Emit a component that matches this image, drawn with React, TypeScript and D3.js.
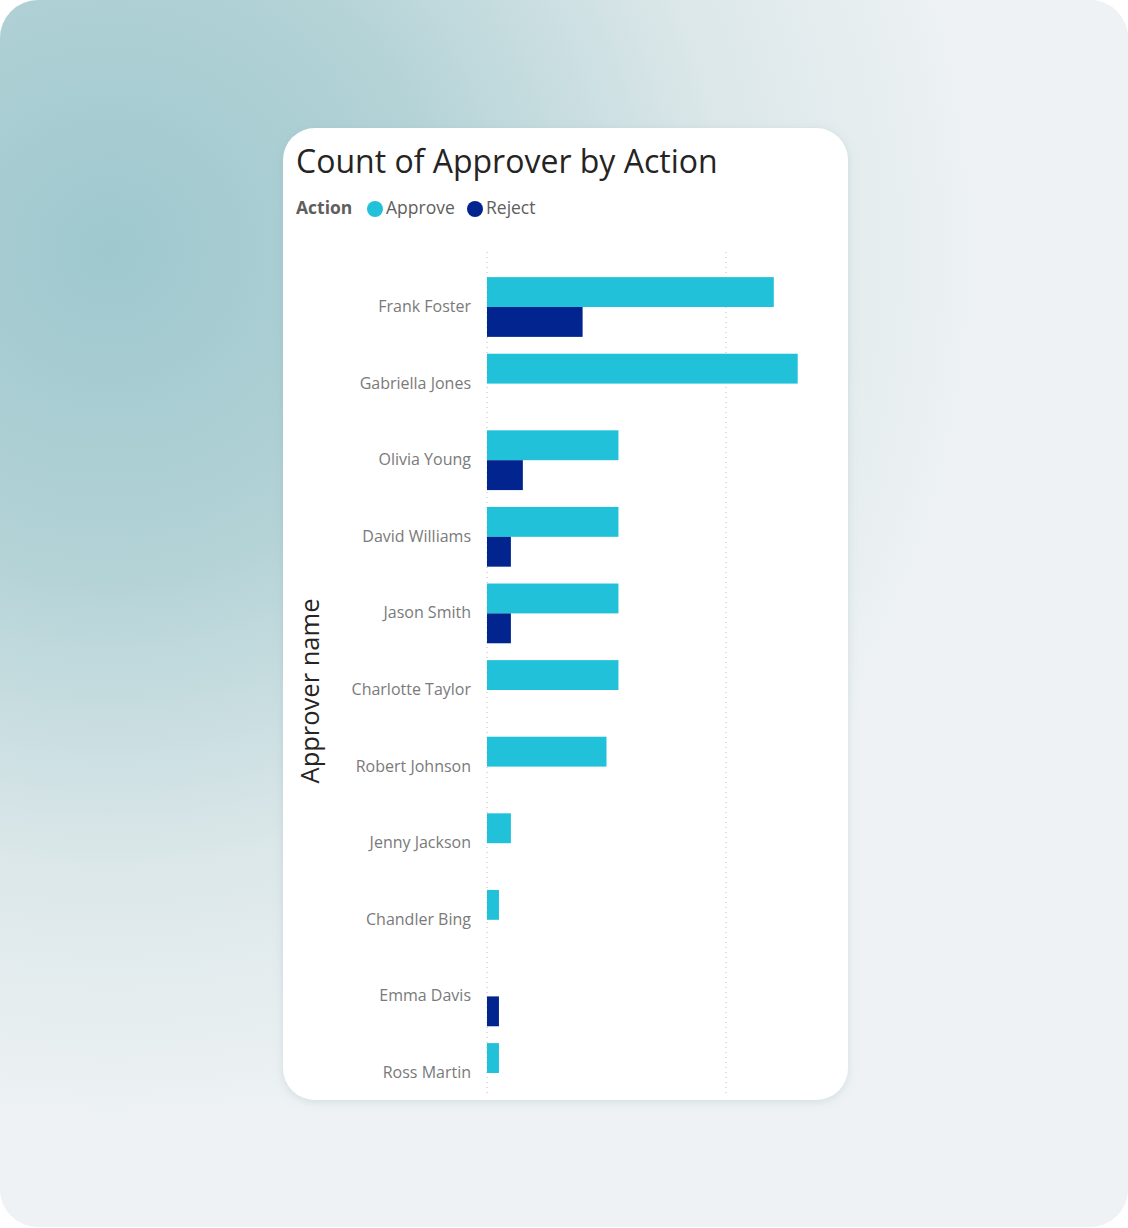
import React from "react";
import * as d3 from "d3";

// Approver names, top to bottom
const approvers = [
  "Frank Foster",
  "Gabriella Jones",
  "Olivia Young",
  "David Williams",
  "Jason Smith",
  "Charlotte Taylor",
  "Robert Johnson",
  "Jenny Jackson",
  "Chandler Bing",
  "Emma Davis",
  "Ross Martin",
];

// Series keys (legend order)
const actions = ["Approve", "Reject"];

// Count of approvals per approver
const approveCounts = [24, 26, 11, 11, 11, 11, 10, 2, 1, 0, 1];
// Count of rejections per approver
const rejectCounts = [8, 0, 3, 2, 2, 0, 0, 0, 0, 1, 0];

// Gridline values on the count axis
const gridValues = [0, 20];

const colors: Record<string, string> = { Approve: "#20C1D9", Reject: "#02248E" };

const W = 1128;
const H = 1228;
const card = { x: 283, y: 128, w: 565, h: 972, r: 32 };
const plot = { left: 487, top: 268.7, bottom: 1111.3, gridTop: 252, gridBottom: 1094 };

export default function App() {
  const x = d3.scaleLinear().domain([0, 20]).range([plot.left, 726]);
  const y = d3
    .scaleBand<string>()
    .domain(approvers)
    .range([plot.top, plot.bottom])
    .paddingInner(0.22)
    .paddingOuter(0.11);
  const ySub = d3.scaleBand<string>().domain(actions).range([0, y.bandwidth()]);

  const rows = approvers.map((name, i) => ({
    name,
    values: [
      { key: "Approve", value: approveCounts[i] },
      { key: "Reject", value: rejectCounts[i] },
    ],
  }));

  const labelFont = "'Open Sans', 'Noto Sans', sans-serif";

  return (
    <svg
      width={W}
      height={H}
      style={{ display: "block", position: "absolute", left: 0, top: 0 }}
    >
      <defs>
        <radialGradient id="bgGrad" cx="110" cy="250" r="880" gradientUnits="userSpaceOnUse">
          <stop offset="0" stopColor="#9ec8ce" />
          <stop offset="0.35" stopColor="#b2d2d6" />
          <stop offset="0.7" stopColor="#dbe7e9" />
          <stop offset="1" stopColor="#eef2f4" />
        </radialGradient>
        <filter id="cardShadow" x="-10%" y="-10%" width="120%" height="120%">
          <feDropShadow dx="0" dy="2" stdDeviation="4" floodColor="#7a9ea4" floodOpacity="0.25" />
        </filter>
        <clipPath id="cardClip">
          <rect x={card.x} y={card.y} width={card.w} height={card.h} rx={card.r} />
        </clipPath>
      </defs>

      <rect x={0} y={0} width={W} height={H} fill="#ffffff" />
      <rect x={0} y={0} width={W} height={H - 1} rx={38} fill="#eef2f4" />
      <rect x={0} y={0} width={W} height={H - 1} rx={38} fill="url(#bgGrad)" />

      <rect
        x={card.x}
        y={card.y}
        width={card.w}
        height={card.h}
        rx={card.r}
        fill="#ffffff"
        filter="url(#cardShadow)"
      />

      <text x={296} y={173} fontFamily={labelFont} fontSize={32} fill="#252423">
        Count of Approver by Action
      </text>

      {/* legend */}
      <g fontFamily={labelFont} fontSize={17.5}>
        <text x={296} y={214} fontWeight={700} fill="#605e5c">
          Action
        </text>
        <circle cx={375} cy={209} r={8} fill={colors.Approve} />
        <text x={386} y={214} fill="#605e5c">
          Approve
        </text>
        <circle cx={475} cy={209} r={8} fill={colors.Reject} />
        <text x={486} y={214} fill="#605e5c">
          Reject
        </text>
      </g>

      {/* axis title */}
      <text
        transform={`translate(319, 691) rotate(-90)`}
        textAnchor="middle"
        fontFamily={labelFont}
        fontSize={25.5}
        fill="#252423"
      >
        Approver name
      </text>

      <g clipPath="url(#cardClip)">
        {/* gridlines */}
        {gridValues.map((v) => (
          <line
            key={v}
            x1={x(v)}
            x2={x(v)}
            y1={plot.gridTop}
            y2={plot.gridBottom}
            stroke="#bdbbb9"
            strokeWidth={1}
            strokeDasharray="1 4"
          />
        ))}

        {/* bars */}
        {rows.map((row) => (
          <g key={row.name} transform={`translate(0, ${y(row.name)})`}>
            {row.values
              .filter((d) => d.value > 0)
              .map((d) => (
                <rect
                  key={d.key}
                  x={x(0)}
                  y={ySub(d.key)}
                  width={x(d.value) - x(0)}
                  height={ySub.bandwidth()}
                  fill={colors[d.key]}
                />
              ))}
          </g>
        ))}
      </g>

      {/* category labels */}
      <g fontFamily={labelFont} fontSize={16} fill="#7a7a7a" textAnchor="end">
        {approvers.map((name) => (
          <text key={name} x={471} y={(y(name) ?? 0) + y.bandwidth() / 2 + 5}>
            {name}
          </text>
        ))}
      </g>
    </svg>
  );
}
